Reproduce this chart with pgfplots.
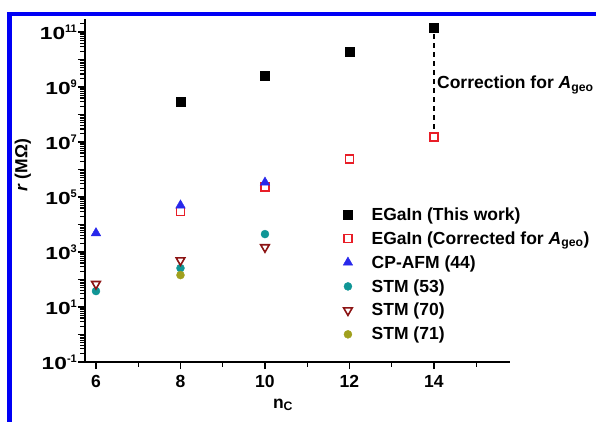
\documentclass[border=0pt]{standalone}
\usepackage{fontspec}
\setmainfont{Liberation Sans}
\usepackage{graphicx}
\usepackage{pgfplots}
\pgfplotsset{compat=1.18}

\definecolor{egRed}{RGB}{232,30,40}
\definecolor{egBlue}{RGB}{40,40,235}
\definecolor{egTeal}{RGB}{16,150,150}
\definecolor{egMaroon}{RGB}{140,20,20}
\definecolor{egOlive}{RGB}{160,160,30}
\definecolor{frameBlue}{RGB}{0,0,245}

% power-of-ten tick label: wide "10" with a small exponent
\newcommand{\tp}[1]{\scalebox{1.3}[1]{10}\raisebox{0.42em}{\fontsize{11bp}{11bp}\selectfont #1}}
\newcommand{\Ageo}{\textit{A}\textsubscript{geo}}
\newcommand{\lblfont}{\fontsize{17.5bp}{20bp}\selectfont\bfseries}

\begin{document}
\begin{tikzpicture}[x=1bp,y=1bp]
\useasboundingbox (-85,-59) rectangle (511,362);
\begin{axis}[
  at={(0,0)}, anchor=south west,
  scale only axis, width=425bp, height=343bp,
  clip=false,
  ymode=log,
  xmin=5.74, xmax=15.8, ymin=1e-1, ymax=3e11,
  axis lines*=left,
  axis line style={line width=1.6bp},
  tick align=outside,
  xtick={6,8,10,12,14}, xticklabels={6,8,10,12,14},
  minor xtick={7,9,11,13,15},
  ytick={1e-1,1e0,1e1,1e2,1e3,1e4,1e5,1e6,1e7,1e8,1e9,1e10,1e11},
  yticklabels={\tp{-1},,\tp{1},,\tp{3},,\tp{5},,\tp{7},,\tp{9},,\tp{11}},
  minor ytick={0.2,0.3,0.4,0.5,0.6,0.7,0.8,0.9,
    2,3,4,5,6,7,8,9,
    20,30,40,50,60,70,80,90,
    200,300,400,500,600,700,800,900,
    2000,3000,4000,5000,6000,7000,8000,9000,
    2e4,3e4,4e4,5e4,6e4,7e4,8e4,9e4,
    2e5,3e5,4e5,5e5,6e5,7e5,8e5,9e5,
    2e6,3e6,4e6,5e6,6e6,7e6,8e6,9e6,
    2e7,3e7,4e7,5e7,6e7,7e7,8e7,9e7,
    2e8,3e8,4e8,5e8,6e8,7e8,8e8,9e8,
    2e9,3e9,4e9,5e9,6e9,7e9,8e9,9e9,
    2e10,3e10,4e10,5e10,6e10,7e10,8e10,9e10,
    2e11},
  every major tick/.append style={black, line width=1.4bp, major tick length=7bp},
  every minor tick/.append style={black, line width=1.1bp, minor tick length=4.5bp},
  ticklabel style={font=\lblfont},
  yticklabel style={inner sep=0pt, xshift=-1bp},
  xticklabel style={yshift=-3bp},
  label style={font=\lblfont},
  xlabel={n\textsubscript{C}},
  xlabel style={at={(rel axis cs:0.466,0)}, anchor=center, yshift=-43bp},
  ylabel={\textit{r} (MΩ)},
  ylabel style={at={(axis description cs:-0.146,0.574)}, anchor=center},
  legend cell align=left,
  legend style={draw=none, fill=none, font=\lblfont,
    at={(rel axis cs:0.607,0.457)}, anchor=north west,
    inner sep=0pt, row sep=5.8bp, column sep=17bp},
]
\addplot[only marks, mark=square*, mark size=4.5bp, black]
  coordinates {(8,3e8) (10,2.5e9) (12,2e10) (14,1.4e11)};
\addlegendentry{EGaIn (This work)}
\addplot[only marks, mark=square, mark size=4bp, egRed, line width=1.8bp]
  coordinates {(8,3e4) (10,2.3e5) (12,2.4e6) (14,1.5e7)};
\addlegendentry{EGaIn (Corrected for \Ageo)}
\addplot[only marks, mark=triangle*, mark size=5.5bp, egBlue]
  coordinates {(6,4.9e3) (8,5e4) (10,3.4e5)};
\addlegendentry{CP-AFM (44)}
\addplot[only marks, mark=*, mark size=4bp, egTeal]
  coordinates {(6,38) (8,260) (10,4.5e3)};
\addlegendentry{STM (53)}
\addplot[only marks, mark=triangle, mark options={rotate=180}, mark size=5bp, egMaroon, line width=1.6bp]
  coordinates {(6,69) (8,500) (10,1.5e3)};
\addlegendentry{STM (70)}
\addplot[only marks, mark=*, mark size=4bp, egOlive]
  coordinates {(8,145)};
\addlegendentry{STM (71)}
% geometric-area correction at n_C = 14
\addplot[forget plot, black, line width=1.3bp, dash pattern=on 5bp off 4bp]
  coordinates {(14,8.5e10) (14,2.3e7)};
\node[anchor=west, font=\lblfont, inner sep=0pt, xshift=3bp]
  at (axis cs:14,1.2e9) {Correction for \Ageo};
\end{axis}
\draw[frameBlue, line width=5bp] (-75.5,-60) -- (-75.5,348);
\draw[frameBlue, line width=4bp] (-78,348) -- (512,348);
\end{tikzpicture}
\end{document}
